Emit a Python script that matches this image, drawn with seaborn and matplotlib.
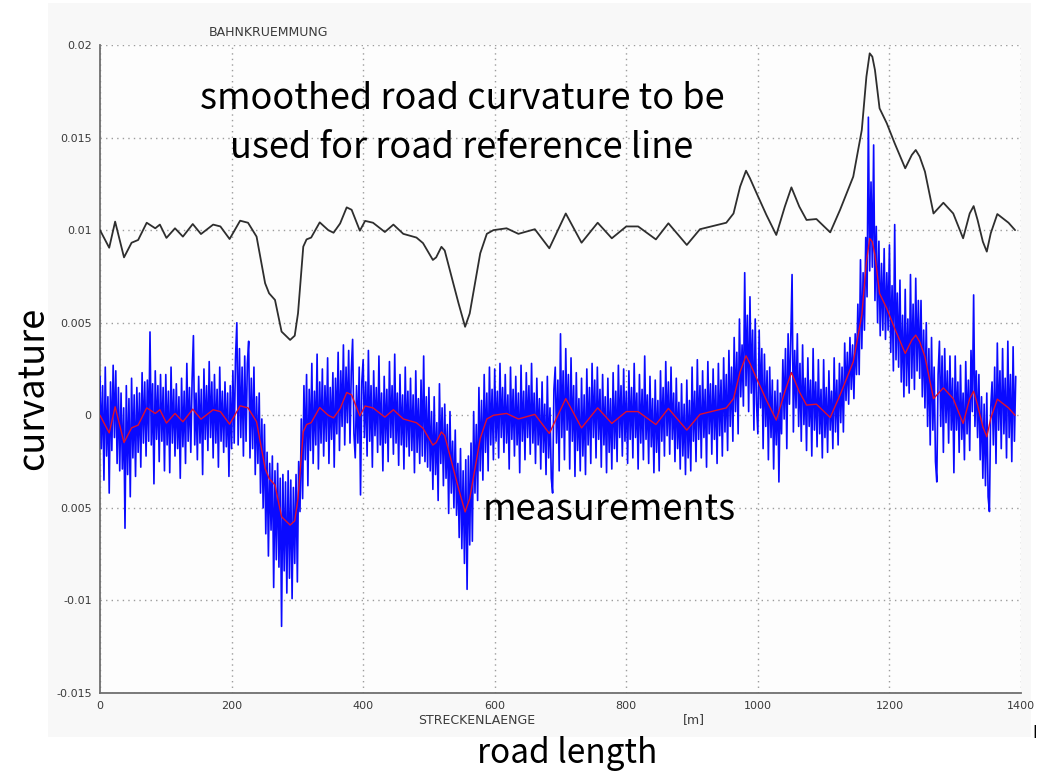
import numpy as np
import pandas as pd
import matplotlib
matplotlib.use("Agg")
import matplotlib.pyplot as plt
import seaborn as sns
from matplotlib.patches import Rectangle

# Raw curvature measurements along the track, one sample every 2 m, in 1/km
SAMPLE_STEP_M = 2
measured_per_km = [
    # 0 .. 98 m
    2.1, -1.8, 1.6, -3.5, 2.6, -2.2, 1.0, -4.2, 1.8, -1.9, 2.7, -1.2, 2.4, -2.6, 1.5, -3.0, 1.2, -2.9, 0.4, -6.1,
    1.6, -3.2, 0.9, -4.4, 2.0, -2.3, 1.1, -3.3, 1.5, -2.0, 1.2, -2.8, 2.3, -1.5, 1.8, -2.2, 1.9, -1.4, 4.5, -1.6,
    1.7, -3.7, 2.4, -1.3, 1.6, -2.5, 2.2, -1.4, 1.5, -3.0,
    # 100 .. 198 m
    2.2, -1.6, 1.3, -3.1, 2.6, -1.5, 1.4, -2.2, 1.7, -1.8, 1.0, -3.4, 2.0, -1.7, 1.3, -2.6, 2.8, -1.4, 1.5, -2.0,
    1.9, 4.3, -1.6, 1.2, -2.4, 2.1, -1.5, 1.4, -3.2, 2.5, -1.3, 1.6, -1.9, 2.9, -1.2, 1.8, -2.3, 2.2, -1.5, 1.4,
    -2.8, 2.6, -1.4, 1.3, -2.0, 1.8, -1.7, 1.2, -3.3, 1.6,
    # 200 .. 298 m
    -1.8, 2.4, -1.5, 3.1, 5.0, -1.6, 3.6, -1.2, 2.6, -2.2, 3.2, -1.4, 2.8, 4.0, -2.3, 2.0, -1.8, 2.6, -3.2, 1.0,
    -2.6, 1.2, -4.2, -0.2, -5.0, -0.5, -6.4, -2.0, -7.6, -2.6, -6.2, -2.2, -9.3, -3.0, -7.8, -2.6, -8.2, -3.4, -11.4, -3.2,
    -8.4, -3.6, -9.6, -3.0, -8.8, -3.5, -9.9, -3.9, -8.0, -3.2,
    # 300 .. 398 m
    -9.0, -2.5, -5.2, -0.2, -4.5, 1.6, -2.4, 2.2, -3.8, 1.4, -1.9, 2.8, -2.6, 1.3, -1.6, 3.3, -2.9, 1.8, -1.5, 2.5,
    -2.2, 1.6, -1.4, 3.1, -2.6, 1.5, -1.3, 2.3, -2.8, 2.0, -1.0, 3.4, -1.9, 2.4, -0.6, 3.8, -1.6, 2.6, -0.4, 3.5,
    -1.5, 2.4, 4.1, -1.0, -2.3, 1.6, -1.5, 2.6, -4.3, 1.8,
    # 400 .. 498 m
    3.0, -1.2, 1.8, -2.2, 3.5, -1.4, 1.6, -2.8, 2.4, -1.1, 1.5, -2.0, 3.2, -1.6, 1.2, -3.0, 2.1, -1.5, 1.4, -2.5,
    2.9, -1.2, 1.6, -2.1, 3.3, -1.5, 1.2, -2.7, 2.2, -1.6, 1.1, -2.9, 2.6, -1.7, 1.3, -2.2, 2.0, -1.9, 1.1, -3.1,
    2.4, -2.0, 0.9, -2.6, 1.9, -2.2, 3.2, -2.5, 1.0, -2.8,
    # 500 .. 598 m
    1.5, -3.0, 0.2, -4.0, 1.0, -3.2, -0.4, -4.6, 1.7, -2.6, 0.4, -3.8, 0.6, -3.4, -0.5, -5.3, 0.2, -4.2, -1.4, -5.0,
    -0.8, -5.4, -2.6, -6.6, -1.8, -7.2, -3.0, -8.0, -2.4, -9.4, -2.2, -7.0, -1.5, -6.8, 0.2, -4.2, -0.5, -4.6, 1.5, -3.0,
    0.8, -3.5, 2.2, -2.0, 1.2, -3.0, 2.6, -1.6, 1.4, -2.4,
    # 600 .. 698 m
    2.5, -1.4, 1.3, -2.3, 2.8, -1.2, 1.5, -2.0, 2.2, -1.5, 1.1, -2.9, 2.6, -1.3, 1.4, -2.2, 2.1, -1.6, 1.2, -3.1,
    2.7, -1.4, 1.3, -2.4, 2.3, -1.2, 1.6, -2.1, 2.8, -1.5, 1.2, -2.6, 2.0, -1.6, 0.9, -2.9, 1.8, -2.0, 0.6, -3.2,
    2.1, -2.3, 0.4, -3.4, -4.2, 1.4, 2.6, -1.5, 1.9, -3.0,
    # 700 .. 798 m
    4.4, -1.2, 2.4, -2.4, 3.6, -0.8, 2.2, -2.9, 3.1, -1.4, 1.6, -3.3, 2.3, -1.9, 0.9, -3.0, 2.0, -2.2, 1.1, -3.2,
    2.5, -1.6, 1.5, -2.6, 2.8, -1.2, 1.9, -2.3, 2.6, -1.3, 1.4, -2.8, 2.2, -1.6, 1.0, -3.1, 2.0, -2.0, 0.9, -2.9,
    2.3, -1.8, 1.3, -2.5, 2.7, -1.2, 1.6, -2.2, 2.5, -1.4,
    # 800 .. 898 m
    1.3, -2.6, 2.4, -1.3, 1.5, -2.3, 2.8, -1.2, 1.2, -2.9, 2.2, -1.5, 1.4, -2.4, 3.2, -1.3, 1.1, -2.6, 2.1, -1.7,
    0.9, -3.1, 1.9, -2.0, 0.8, -3.0, 2.4, -1.4, 1.5, -2.2, 2.9, -1.1, 1.8, -2.1, 2.6, -1.3, 1.2, -2.5, 2.0, -1.8,
    0.7, -2.9, 1.7, -2.2, 0.6, -3.2, 1.9, -2.3, 0.8, -3.0,
    # 900 .. 998 m
    2.6, -1.4, 1.3, -2.5, 3.0, -1.3, 1.6, -2.3, 2.4, -1.2, 1.4, -2.8, 2.9, -1.0, 1.7, -2.1, 2.5, -1.3, 1.6, -2.6,
    2.8, -1.1, 1.9, -2.2, 3.1, -0.9, 2.2, -1.9, 3.5, -0.6, 2.6, -1.4, 4.2, 0.2, 3.4, -1.0, 5.2, 1.0, 3.8, 0.5,
    7.7, 1.6, 5.4, 0.2, 6.4, 1.2, 4.6, -0.8, 5.2, 0.6,
    # 1000 .. 1098 m
    -1.0, 4.6, 0.4, 3.6, -1.8, 3.3, -0.6, 2.4, -2.4, 2.6, -1.2, 1.9, -2.9, 1.3, -1.6, 1.9, -3.6, 1.2, -1.0, 3.0,
    -0.2, 3.6, -1.8, 4.4, 0.6, 4.0, 7.6, -0.9, 3.5, 0.4, 4.4, -0.6, 2.8, -1.4, 3.8, -0.5, 2.0, -1.9, 3.1, -0.6,
    1.9, -2.2, 3.6, -0.8, 1.8, -1.7, 3.0, -1.0, 1.4, -2.3,
    # 1100 .. 1198 m
    3.0, -1.2, 1.5, -2.0, 2.4, -0.8, 1.3, -1.8, 3.1, -0.9, 1.9, -1.6, 2.8, -0.4, 2.6, -0.9, 3.9, 0.8, 3.4, 0.6,
    4.2, 1.4, 3.8, 0.9, 4.4, 2.2, 6.0, 2.2, 8.4, 3.6, 7.7, 4.6, 9.6, 6.4, 16.1, 7.8, 12.6, 8.0, 14.6, 6.2,
    10.2, 5.0, 9.4, 4.3, 8.2, 4.6, 9.0, 4.1, 7.7, 4.6,
    # 1200 .. 1298 m
    9.2, 3.4, 7.0, 2.4, 10.3, 3.0, 6.6, 2.6, 7.3, 1.8, 5.4, 1.0, 6.8, 1.6, 5.2, 1.2, 7.6, 2.0, 6.0, 1.4,
    7.4, 2.4, 6.2, 2.0, 6.2, 1.0, 4.6, 0.4, 5.0, -0.6, 3.6, -1.6, 4.2, -0.8, 2.6, -2.5, -3.6, 2.2, 4.0, -0.6,
    3.2, -2.0, 3.6, -0.4, 2.4, -1.5, 3.2, -0.8, 2.0, -3.1,
    # 1300 .. 1392 m
    3.2, -0.8, 1.8, -2.0, 2.7, -1.3, 1.2, -2.4, 2.9, -1.0, 1.9, -1.9, 3.5, 0.2, 6.5, -0.6, 2.4, -1.2, 2.2, -2.4,
    1.0, -3.4, 0.6, -3.8, 1.2, -4.4, -5.2, 0.4, 1.8, -1.6, 2.6, -2.6, 3.9, -0.8, 2.4, -1.8, 3.6, -1.0, 2.0, -2.3,
    4.0, -1.2, 2.2, -2.5, 3.7, -1.4, 2.1,
]

# Smoothed curvature (reference line), position in m and curvature in 1/km
smoothed_pos_m = [
    0, 14, 23, 36.5, 48, 58, 71, 84, 91, 101,
    114, 126, 141, 153.5, 172, 183, 197, 213, 225, 238,
    251, 257, 266, 276, 289, 296, 301, 309, 314, 321,
    334, 347, 355, 365, 375, 382.5, 395, 403, 415, 433,
    446, 461, 481, 491, 506, 511, 519, 524, 537, 545,
    555, 562, 578, 588, 598, 618, 636, 661, 683, 708,
    732, 756.5, 778, 800, 818, 845, 864, 892, 912, 952,
    963, 973, 982, 988, 998, 1013, 1028, 1041, 1051, 1063,
    1074, 1089, 1110, 1125, 1145, 1158, 1165, 1170, 1174, 1178,
    1185, 1196, 1208, 1224, 1234, 1240, 1246, 1254, 1267, 1282,
    1297, 1312, 1322, 1328, 1334, 1342, 1348, 1354, 1364, 1381,
    1391,
]
smoothed_per_km = [
    0.0, -0.95, 0.46, -1.47, -0.68, -0.53, 0.4, 0.1, 0.3, -0.42,
    0.1, -0.35, 0.33, -0.21, 0.3, 0.2, -0.48, 0.51, 0.4, -0.35,
    -2.87, -3.41, -3.77, -5.48, -5.93, -5.7, -4.49, -0.89, -0.5, -0.4,
    0.42, 0.0, -0.14, 0.36, 1.23, 1.1, -0.03, 0.5, 0.4, -0.1,
    0.3, -0.2, -0.4, -0.7, -1.61, -1.47, -0.9, -1.1, -2.87, -3.95,
    -5.22, -4.5, -1.25, -0.2, 0.0, 0.1, -0.2, 0.05, -0.98, 0.9,
    -0.68, 0.4, -0.44, 0.2, 0.2, -0.5, 0.37, -0.8, 0.05, 0.4,
    0.9, 2.35, 3.21, 2.8, 2.0, 0.82, -0.26, 1.27, 2.31, 1.27,
    0.55, 0.6, -0.12, 1.1, 2.89, 5.41, 8.29, 9.55, 9.37, 8.65,
    6.58, 5.77, 4.69, 3.34, 4.06, 4.33, 3.97, 3.16, 0.9, 1.48,
    0.9, -0.44, 0.9, 1.3, 0.55, -0.62, -1.16, -0.17, 0.87, 0.4,
    0.0,
]

# The reference line is shown lifted above the measurements by this amount (1/m)
REF_LINE_OFFSET = 0.01

x_ticks = [0, 200, 400, 600, 800, 1000, 1200, 1400]
x_tick_labels = ["0", "200", "400", "600", "800", "1000", "1200", "1400"]
y_ticks = [-0.015, -0.01, -0.005, 0.0, 0.005, 0.01, 0.015, 0.02]
y_tick_labels = ["-0.015", "-0.01", "0.005", "0", "0.005", "0.01", "0.015", "0.02"]

KM = 1e-3
meas = pd.DataFrame({
    "s": np.arange(len(measured_per_km)) * SAMPLE_STEP_M,
    "k": np.array(measured_per_km) * KM,
})
smooth = pd.DataFrame({
    "s": smoothed_pos_m,
    "k": np.array(smoothed_per_km) * KM,
})
smooth["k_ref"] = smooth["k"] + REF_LINE_OFFSET

sns.set_style("white")
plt.rcParams["font.family"] = ["DejaVu Sans"]

W, H = 1045, 772
fig = plt.figure(figsize=(W / 100, H / 100), dpi=100)
fig.patch.set_facecolor("white")

# light grey figure panel behind the plot
fig.patches.append(Rectangle((48 / W, 1 - 737 / H), (1031 - 48) / W, (737 - 3) / H,
                             transform=fig.transFigure, facecolor="#f8f8f8",
                             edgecolor="none", zorder=-5))

ax = fig.add_axes([100 / W, 1 - 693 / H, 921 / W, 648 / H])
ax.set_zorder(2)
ax.set_facecolor("#fdfdfd")

sns.lineplot(data=meas, x="s", y="k", ax=ax, color="#0a0aff", linewidth=1.2,
             estimator=None, sort=False, zorder=3)
sns.lineplot(data=smooth, x="s", y="k", ax=ax, color="#e0102e", linewidth=1.0,
             estimator=None, sort=False, zorder=4)
sns.lineplot(data=smooth, x="s", y="k_ref", ax=ax, color="#2e2e2e", linewidth=1.3,
             estimator=None, sort=False, zorder=4)

ax.set_xlim(0, 1400)
ax.set_ylim(-0.015, 0.02)
ax.set_xticks(x_ticks)
ax.set_xticklabels(x_tick_labels)
ax.set_yticks(y_ticks)
ax.set_yticklabels(y_tick_labels)
ax.set_xlabel("")
ax.set_ylabel("")

ax.grid(True, linestyle=(0, (1, 3)), color="#9c9c9c", linewidth=1.0, zorder=1)
for side in ("top", "right"):
    ax.spines[side].set_visible(False)
for side in ("left", "bottom"):
    ax.spines[side].set_color("#6f6f6f")
    ax.spines[side].set_linewidth(1.3)
ax.tick_params(axis="both", direction="in", length=7, width=1.2, color="#6f6f6f",
               labelsize=8, labelcolor="#3a3a3a", pad=6)

# small labels of the original plot window
small = dict(fontsize=9, color="#3a3a3a", ha="center", va="center", zorder=5)
fig.text(268 / W, 1 - 32 / H, "BAHNKRUEMMUNG", **small)
fig.text(477 / W, 1 - 720 / H, "STRECKENLAENGE", **small)
fig.text(694 / W, 1 - 720 / H, "[m]", **small)

# large annotations
big = dict(family=["Noto Sans CJK JP", "DejaVu Sans"], fontsize=26, color="black",
           zorder=6)
fig.text(462 / W, 1 - 109 / H, "smoothed road curvature to be", ha="center",
         va="baseline", **big)
fig.text(462 / W, 1 - 158 / H, "used for road reference line", ha="center",
         va="baseline", **big)
fig.text(483 / W, 1 - 520 / H, "measurements", ha="left", va="baseline", **big)
fig.text(33 / W, 1 - 388 / H, "curvature", ha="center", va="center",
         rotation=90, **big)
fig.text(567 / W, 1 - 763 / H, "road length", ha="center", va="baseline",
         **{**big, "fontsize": 24})
fig.text(1035 / W, 1 - 731 / H, "|", ha="center", va="center", fontsize=9,
         color="black", fontweight="bold", zorder=6)

fig.savefig("out.png", dpi=100)
